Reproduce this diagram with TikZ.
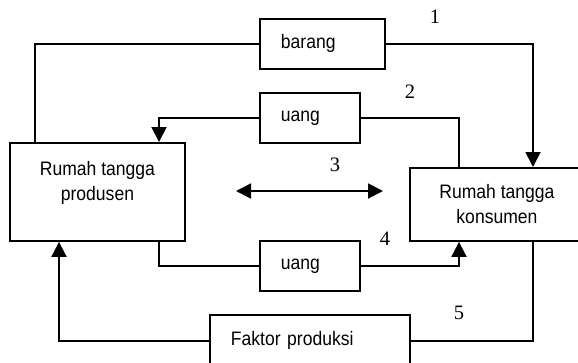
\documentclass[tikz,border=0pt]{standalone}
\usepackage{fontspec}
\setmainfont{Liberation Sans}[FakeStretch=0.9]
\newfontfamily\numfont{Liberation Serif}
\usetikzlibrary{arrows.meta, positioning}

\begin{document}
\begin{tikzpicture}[x=1pt, y=-1pt, line width=1.9pt, >={Triangle[length=15pt,width=15pt]}]
			\tikzstyle{house}=[
			draw, line width=1.9pt, anchor=north west, inner sep=0pt,
			font=\fontsize{19.5}{25}\selectfont, align=center
			]
			\tikzstyle{flowbox}=[
			draw, line width=1.9pt, anchor=north west, inner xsep=21pt, inner ysep=0pt,
			minimum height=50pt, font=\fontsize{19.5}{25}\selectfont, align=left
			]
			\tikzstyle{num}=[font=\numfont\fontsize{20.5}{20.5}\selectfont]
			
			\useasboundingbox (0,0) rectangle (578,362);
			
			\node[house, minimum width=175pt, minimum height=98pt] (prod) at (9,142) {};
			\node[font=\fontsize{19.5}{25}\selectfont, align=center] (prodtxt) at ([yshift=9pt]prod.center) {Rumah tangga\\produsen};
			\node[house, minimum width=174pt, minimum height=73pt] (kons) at (409,167) {Rumah tangga\\konsumen};
			
			\node[flowbox, text width=83pt] (barang) at (259,18) {barang};
			\node[flowbox, text width=58pt] (uang1) at (259,92) {uang};
			\node[flowbox, text width=58pt] (uang2) at (259,240) {uang};
			\node[flowbox, text width=158pt, minimum height=52pt] (faktor) at (209,314) {Faktor produksi};
			
			\coordinate (kiri) at (236,191);
			\coordinate (kanan) at (383,191);
			
			\node[num] (n1) at (435,17) {1};
			\node[num] (n2) at (410,92) {2};
			\node[num] (n3) at (335,165) {3};
			\node[num] (n4) at (385,239) {4};
			\node[num] (n5) at (459,313) {5};
			
			\draw ([xshift=26pt]prod.north west) |- (barang.west);
			\draw[->] (barang.east) -| ([xshift=124pt]kons.north west);
			\draw ([xshift=50pt]kons.north west) |- (uang1.east);
			\draw[->] (uang1.west) -| ([xshift=150pt]prod.north west);
			\draw[<->] (kiri) -- (kanan);
			\draw ([xshift=150pt]prod.south west) |- (uang2.west);
			\draw[->] (uang2.east) -| ([xshift=50pt]kons.south west);
			\draw ([xshift=124pt]kons.south west) |- (faktor.east);
			\draw[->] (faktor.west) -| ([xshift=50pt]prod.south west);
		\end{tikzpicture}
\end{document}
